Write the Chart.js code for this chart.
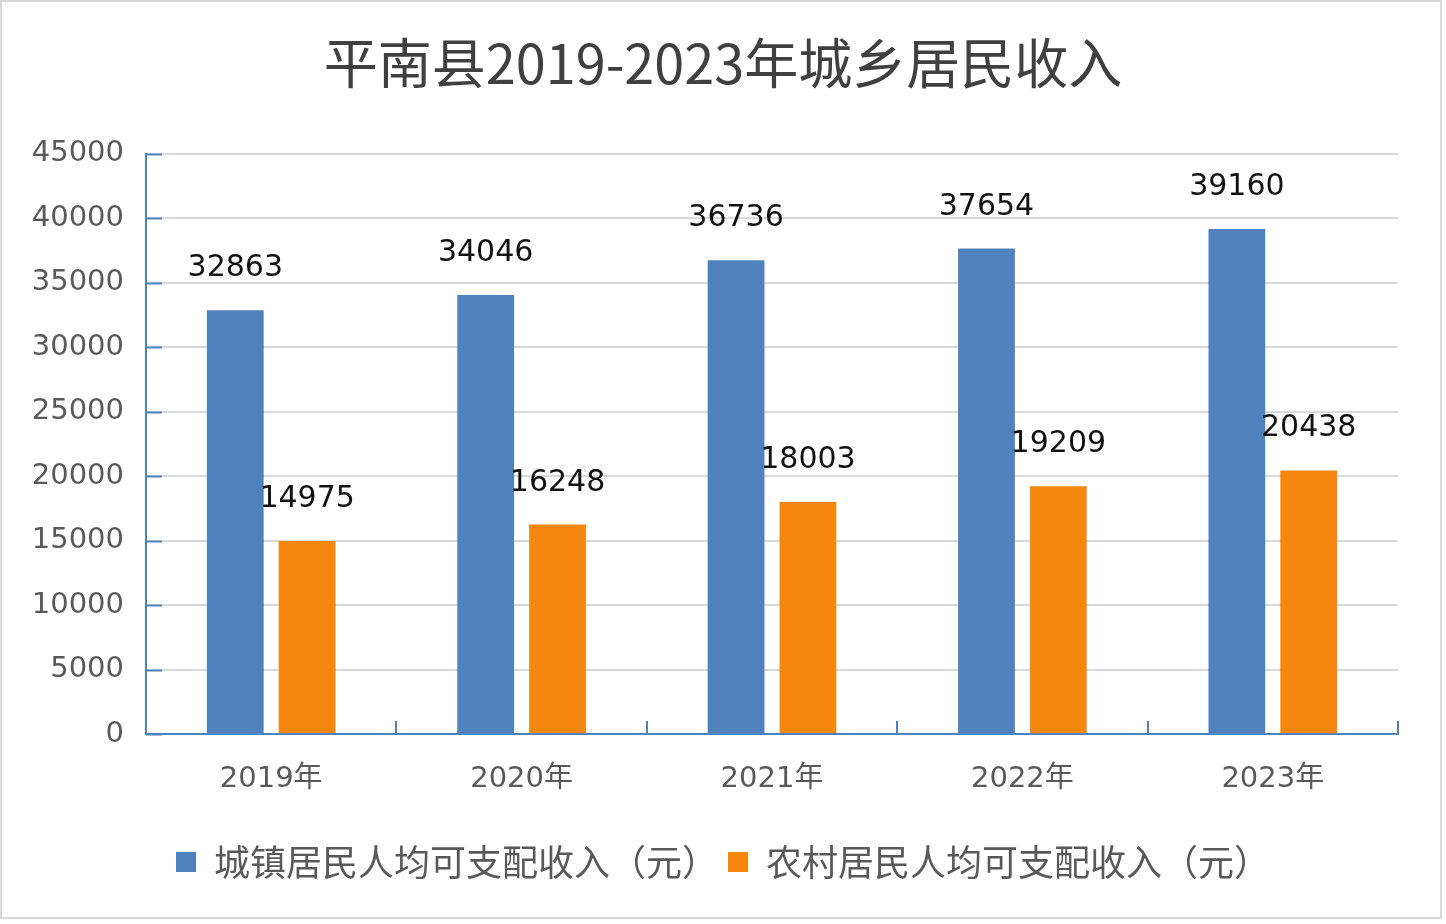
<!DOCTYPE html>
<html>
<head>
<meta charset="utf-8">
<script src="https://cdn.jsdelivr.net/npm/chart.js@4/dist/chart.umd.min.js"></script>
<style>
  html, body { margin: 0; padding: 0; background: #fff; }
  #wrap { position: relative; width: 1446px; height: 924px; }
  #frame { position: absolute; left: 0; top: 0; width: 1438px; height: 915px; border: 2px solid #d9d9d9; pointer-events: none; }
</style>
</head>
<body>
<div id="wrap">
  <canvas id="chart" width="1446" height="924"></canvas>
  <div id="frame"></div>
</div>
<script>
// years on the x axis
const years = ['2019年', '2020年', '2021年', '2022年', '2023年']
// per capita disposable income, yuan
const urban = [32863, 34046, 36736, 37654, 39160]
const rural = [14975, 16248, 18003, 19209, 20438]
const seriesNames = ['城镇居民人均可支配收入（元）', '农村居民人均可支配收入（元）']
const yMax = 45000
const yStep = 5000

const cjk = '"Noto Sans CJK SC", "Noto Sans", sans-serif'
const num = '"DejaVu Sans", "Noto Sans CJK SC", sans-serif'

// numbers above bars + the little inside tick marks on both axes
const barLabels = {
  id: 'barLabels',
  afterDatasetsDraw(chart) {
    const ctx = chart.ctx
    ctx.save()
    ctx.font = '30px "DejaVu Sans", sans-serif'
    ctx.fillStyle = '#111'
    ctx.textAlign = 'center'
    ctx.textBaseline = 'alphabetic'
    chart.data.datasets.forEach((ds, d) => {
      chart.getDatasetMeta(d).data.forEach((el, i) => {
        ctx.fillText(ds.data[i], el.x, el.y - 34)
      })
    })
    ctx.restore()
  },
  afterDraw(chart) {
    const ctx = chart.ctx
    const x = chart.scales.x, y = chart.scales.y
    ctx.save()
    ctx.strokeStyle = '#4f81bd'
    ctx.lineWidth = 2
    ctx.beginPath()
    for (let v = 0; v <= yMax; v += yStep) {
      const py = Math.round(y.getPixelForValue(v)) + 0.5
      ctx.moveTo(x.left, py)
      ctx.lineTo(x.left + 16, py)
    }
    const w = (x.right - x.left) / years.length
    for (let i = 1; i <= years.length; i++) {
      const px = Math.round(x.left + w * i)
      ctx.moveTo(px, y.bottom)
      ctx.lineTo(px, y.bottom - 13)
    }
    ctx.stroke()
    ctx.restore()
  }
}

new Chart(document.getElementById('chart').getContext('2d'), {
  type: 'bar',
  data: {
    labels: years,
    datasets: [{
      label: seriesNames[0],
      data: urban,
      backgroundColor: '#4f81bd',
      categoryPercentage: 0.574,
      barPercentage: 0.79
    }, {
      label: seriesNames[1],
      data: rural,
      backgroundColor: '#f5870e',
      categoryPercentage: 0.574,
      barPercentage: 0.79
    }]
  },
  options: {
    responsive: false,
    animation: false,
    layout: { padding: { left: 0, right: 0, top: 0, bottom: 34 } },
    plugins: {
      title: {
        display: true,
        text: '平南县2019-2023年城乡居民收入',
        color: '#404040',
        font: { family: cjk, size: 54, weight: 'normal' },
        padding: { top: 31, bottom: 58 }
      },
      legend: {
        display: true,
        position: 'bottom',
        labels: {
          color: '#595959',
          font: { family: cjk, size: 36 },
          boxWidth: 20,
          boxHeight: 20,
          padding: 10
        }
      },
      tooltip: { enabled: false }
    },
    scales: {
      x: {
        grid: { display: false },
        border: { display: true, color: '#4f81bd', width: 2 },
        ticks: { color: '#595959', font: { family: num, size: 29 }, padding: 20 },
        afterFit(scale) { scale.height = 100 }
      },
      y: {
        min: 0,
        max: yMax,
        ticks: {
          stepSize: yStep,
          color: '#595959',
          font: { family: num, size: 29 },
          padding: 22,
          callback: v => String(v)
        },
        grid: { color: '#d9d9d9', lineWidth: 2, drawTicks: false },
        border: { display: true, color: '#4f81bd', width: 2 },
        afterFit(scale) { scale.width = 146 }
      },
      // empty right-hand axis, only keeps the right margin inside the plot layout
      yRight: {
        position: 'right',
        min: 0,
        max: yMax,
        ticks: { display: false },
        grid: { display: false },
        border: { display: false },
        afterFit(scale) { scale.width = 48 }
      }
    }
  },
  plugins: [barLabels]
})
</script>
</body>
</html>
